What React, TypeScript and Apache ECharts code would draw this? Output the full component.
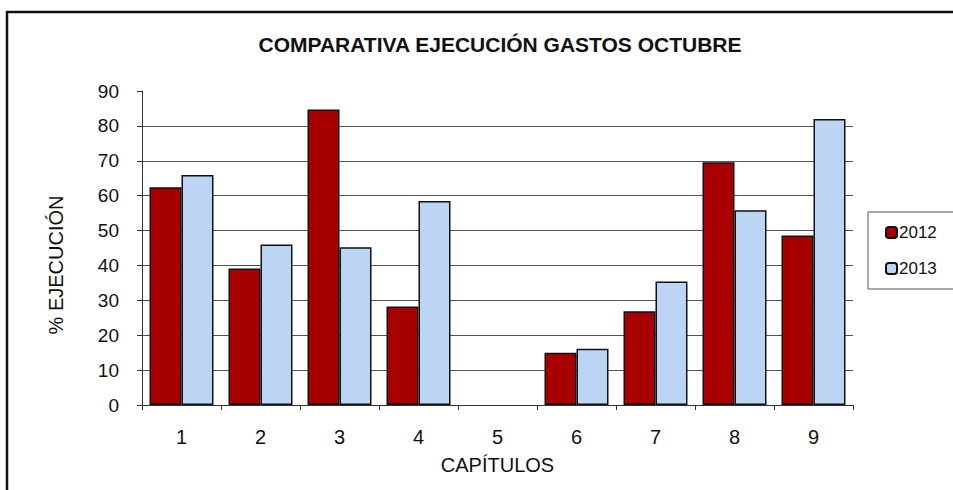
import React, { useEffect, useRef } from "react";
import * as echarts from "echarts";

const categories = ["1", "2", "3", "4", "5", "6", "7", "8", "9"];
const values2012 = [62.4, 39.1, 84.7, 28.2, null, 15.0, 26.9, 69.6, 48.6];
const values2013 = [65.9, 46.0, 45.2, 58.5, null, 16.1, 35.4, 55.8, 82.0];
const seriesNames = ["2012", "2013"];

export default function App() {
  const ref = useRef<HTMLDivElement>(null);
  useEffect(() => {
    document.body.style.margin = "0";
    const chart = echarts.init(ref.current!, undefined, { renderer: "svg" });
    const font = "Liberation Sans, Arial, sans-serif";
    const gridColors = ["#555", "#555", "#555", "#555", "#555", "#555", "#555", "#555", "#555", "rgba(0,0,0,0)"];
    chart.setOption({
      animation: false,
      backgroundColor: "#fff",
      textStyle: { fontFamily: font },
      graphic: [
        {
          type: "rect",
          shape: { x: 7, y: 12, width: 1000, height: 600 },
          style: { fill: "none", stroke: "#111", lineWidth: 2.5 },
          silent: true,
        },
      ],
      title: {
        text: "COMPARATIVA EJECUCIÓN GASTOS OCTUBRE",
        left: 495,
        textAlign: "center",
        top: 29,
        textStyle: { fontFamily: font, fontSize: 21, fontWeight: "bold", color: "#111" },
      },
      legend: {
        orient: "vertical",
        left: 868,
        top: 212,
        itemWidth: 11,
        itemHeight: 11,
        itemGap: 19,
        padding: [12, 40, 12, 17],
        borderColor: "#555",
        borderWidth: 1,
        textStyle: { fontFamily: font, fontSize: 17, color: "#111", padding: [0, 0, 0, -3] },
        data: seriesNames,
      },
      grid: { left: 142, right: 100, top: 91, bottom: 85 },
      xAxis: {
        type: "category",
        data: categories,
        name: "CAPÍTULOS",
        nameLocation: "middle",
        nameGap: 50,
        nameTextStyle: { fontFamily: font, fontSize: 20, color: "#111" },
        axisLine: { lineStyle: { color: "#333", width: 1 } },
        axisTick: { show: true, length: 5, lineStyle: { color: "#333" } },
        axisLabel: { fontFamily: font, fontSize: 20, color: "#111", margin: 22 },
      },
      yAxis: {
        type: "value",
        min: 0,
        max: 90,
        interval: 10,
        name: "% EJECUCIÓN",
        nameLocation: "middle",
        nameGap: 76,
        nameTextStyle: { fontFamily: font, fontSize: 20, color: "#111", padding: [0, 34, 0, 0] },
        axisLine: { show: true, lineStyle: { color: "#333", width: 1 } },
        axisTick: { show: true, length: 5, lineStyle: { color: "#333" } },
        axisLabel: { fontFamily: font, fontSize: 19, color: "#111", margin: 23 },
        splitLine: { show: true, lineStyle: { color: gridColors, width: 1 } },
      },
      series: [
        {
          name: seriesNames[0],
          type: "bar",
          data: values2012,
          barGap: "0%",
          barCategoryGap: "19%",
          itemStyle: { color: "#A80000", borderColor: "#111", borderWidth: 1.5 },
        },
        {
          name: seriesNames[1],
          type: "bar",
          data: values2013,
          barGap: "0%",
          barCategoryGap: "19%",
          itemStyle: { color: "#BCD5F5", borderColor: "#111", borderWidth: 1.5 },
        },
      ],
    });
    return () => chart.dispose();
  }, []);
  return <div ref={ref} style={{ width: 953, height: 490, position: "fixed", left: 0, top: 0 }} />;
}
